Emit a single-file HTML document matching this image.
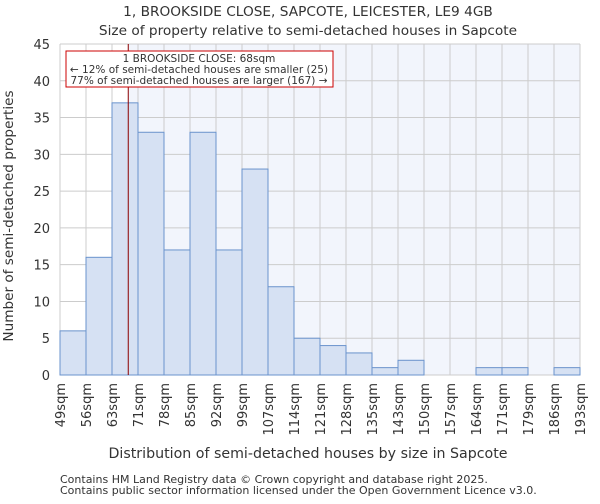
<!DOCTYPE html>
<html><head><meta charset="utf-8"><style>
body{margin:0;background:#fff;font-family:"DejaVu Sans","Liberation Sans",sans-serif}
svg text{font-family:"DejaVu Sans","Liberation Sans",sans-serif;fill:#333}
</style></head><body>
<svg id="chart" width="600" height="500">
<text x="308" y="16" text-anchor="middle" font-size="13.7">1, BROOKSIDE CLOSE, SAPCOTE, LEICESTER, LE9 4GB</text>
<text x="308" y="35" text-anchor="middle" font-size="13.7">Size of property relative to semi-detached houses in Sapcote</text>
<g id="plot"></g>
<text x="308" y="458" text-anchor="middle" font-size="14.2">Distribution of semi-detached houses by size in Sapcote</text>
<text transform="translate(13,216) rotate(-90)" text-anchor="middle" font-size="13.6">Number of semi-detached properties</text>
<text x="60" y="483" font-size="11" fill="#555">Contains HM Land Registry data © Crown copyright and database right 2025.</text>
<text x="60" y="494" font-size="11" fill="#555">Contains public sector information licensed under the Open Government Licence v3.0.</text>
</svg>
<script>
const edges=[49,56,63,71,78,85,92,99,107,114,121,128,135,143,150,157,164,171,179,186,193];
const counts=[6,16,37,33,17,33,17,28,12,5,4,3,1,2,0,0,1,1,0,1];
const yTicks=[0,5,10,15,20,25,30,35,40,45];
const subject=68;
const X0=60,X1=580,Y0=375,Y1=44,YMAX=45;
const bw=(X1-X0)/counts.length;
function xIdx(i){return X0+i*bw;}
function xVal(v){for(let i=0;i<edges.length-1;i++){if(v<=edges[i+1])return xIdx(i)+bw*(v-edges[i])/(edges[i+1]-edges[i]);}return X1;}
function y(v){return Y0-(Y0-Y1)*v/YMAX;}
const NS="http://www.w3.org/2000/svg";
const g=document.getElementById('plot');
function mk(t,a,p){const e=document.createElementNS(NS,t);for(const k in a)e.setAttribute(k,a[k]);(p||g).appendChild(e);return e;}
const sx=xVal(subject);
let bg=mk('rect',{x:X0,y:Y1,width:X1-X0,height:Y0-Y1,fill:'#fff'});


let hl=mk('rect',{x:sx,y:Y1,width:X1-sx,height:Y0-Y1,fill:'#f2f5fc'});


yTicks.forEach(t=>{
 let l=mk('line',{x1:X0,x2:X1,y1:y(t),y2:y(t),stroke:'#ccc','stroke-width':1});
 
 
 let tx=mk('text',{x:X0-10,y:y(t)+5,'text-anchor':'end','font-size':13});
 tx.textContent=t;
 
 
});
edges.forEach((e,i)=>{
 let l=mk('line',{x1:xIdx(i),x2:xIdx(i),y1:Y1,y2:Y0,stroke:'#ccc','stroke-width':1});
 
 
 let tx=mk('text',{transform:`translate(${xIdx(i)+5},${Y0+8}) rotate(-90)`,'text-anchor':'end','font-size':13});
 tx.textContent=e+'sqm';
 
 
});
counts.forEach((c,i)=>{
 if(c<=0)return;
 let r=mk('rect',{x:xIdx(i),y:y(c),width:bw,height:Y0-y(c),fill:'#d6e1f3',stroke:'#6a93cc','stroke-width':1});
 
 
});
let ml=mk('line',{x1:sx,x2:sx,y1:Y1,y2:Y0,stroke:'#8b0000','stroke-width':1});


let box=mk('rect',{x:66,y:51,width:267,height:36,fill:'#fff',stroke:'#c00','stroke-width':1});


["1 BROOKSIDE CLOSE: 68sqm","← 12% of semi-detached houses are smaller (25)","77% of semi-detached houses are larger (167) →"].forEach((s,i)=>{
 let t=mk('text',{x:199,y:62+i*11,'text-anchor':'middle','font-size':10.5});
 t.textContent=s;
 
 
});
</script>
</body></html>
